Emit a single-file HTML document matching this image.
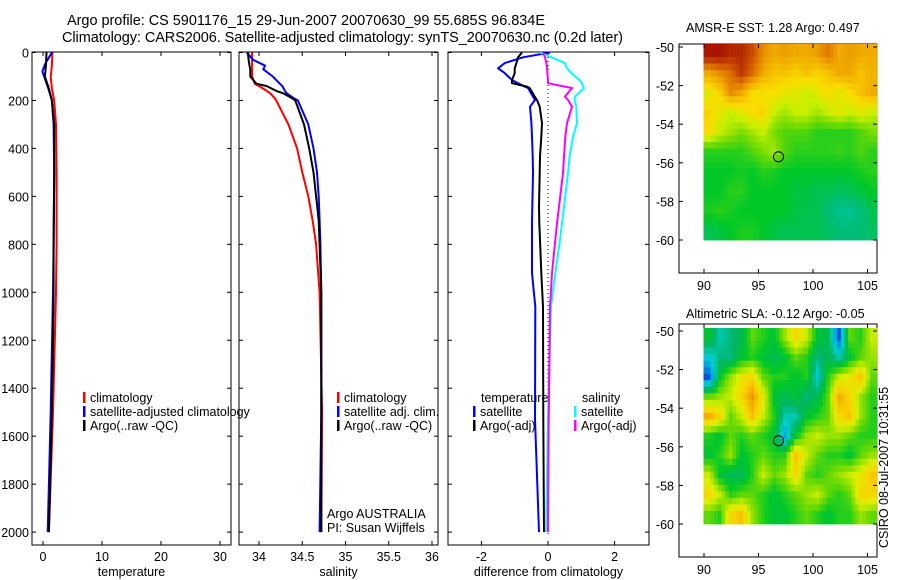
<!DOCTYPE html>
<html><head><meta charset="utf-8"><style>
body{margin:0;background:#fff;}
svg{display:block;font-family:"Liberation Sans",sans-serif;}
text{font-size:12.5px;fill:#000;}
</style></head><body>
<svg id="fig" width="900" height="580" viewBox="0 0 900 580">
<text x="67" y="25" style="font-size:14.5px" textLength="478">Argo profile: CS 5901176_15 29-Jun-2007 20070630_99 55.685S 96.834E</text>
<text x="62" y="42" style="font-size:14.5px" textLength="561">Climatology: CARS2006. Satellite-adjusted climatology: synTS_20070630.nc (0.2d later)</text>
<text x="686" y="32" style="font-size:12.5px">AMSR-E SST: 1.28 Argo: 0.497</text>
<text x="686" y="318" style="font-size:12.5px">Altimetric SLA: -0.12 Argo: -0.05</text>
<text transform="translate(888,548) rotate(-90)" style="font-size:12.5px">CSIRO 08-Jul-2007 10:31:55</text>
<g id="g"></g>
</svg>
<script>
// ---------- data ----------
const tempDepth=[0,50,80,100,150,200,300,500,800,1000,1500,2000];
const tempClim=[1.6,1.5,1.4,1.3,1.5,1.9,2.2,2.3,2.3,2.2,1.7,1.0];
const tempSat=[1.5,0.3,-0.1,0.2,0.9,1.5,1.8,1.9,1.8,1.7,1.3,0.8];
const tempArgo=[0.6,0.5,0.4,0.3,1.0,1.5,1.9,1.9,1.8,1.8,1.5,1.0];
const salDepth=[0,30,55,70,100,130,140,160,170,190,200,300,400,500,600,700,800,1000,1500,2000];
const salClim=[33.92,33.92,33.92,33.92,33.92,33.95,34.0,34.09,34.13,34.18,34.2,34.34,34.44,34.5,34.57,34.62,34.66,34.70,34.73,34.72];
const salSat=[33.86,33.93,34.07,34.05,34.16,34.24,34.27,34.3,34.32,34.4,34.45,34.57,34.63,34.67,34.69,34.7,34.71,34.72,34.72,34.70];
const salArgo=[33.87,33.88,33.89,33.9,33.9,33.97,34.09,34.2,34.28,34.38,34.42,34.52,34.58,34.63,34.66,34.69,34.7,34.72,34.72,34.72];
const diffDepth=[0,20,44,66,86,115,128,142,148,184,198,226,295,351,434,503,643,712,782,920,1060,1530,2000];
const diffTSat=[0.06,-0.75,-1.3,-1.5,-1.3,-1.08,-0.9,-0.7,-0.6,-0.45,-0.39,-0.54,-0.5,-0.48,-0.46,-0.45,-0.47,-0.48,-0.48,-0.48,-0.38,-0.39,-0.27];
const diffTArgo=[-0.78,-0.9,-0.95,-1.0,-1.0,-1.08,-1.08,-0.63,-0.55,-0.4,-0.33,-0.25,-0.18,-0.2,-0.24,-0.25,-0.27,-0.26,-0.24,-0.2,-0.15,-0.14,-0.12];
const diffSSat=[-0.24,0.1,0.51,0.57,0.7,0.95,1.02,1.05,1.08,0.81,0.8,0.85,0.87,0.75,0.65,0.6,0.48,0.42,0.36,0.22,0.09,0.0,-0.06];
const diffSArgo=[-0.15,-0.09,-0.05,-0.03,-0.02,0.0,0.0,0.5,0.72,0.51,0.6,0.72,0.57,0.52,0.48,0.45,0.33,0.27,0.22,0.12,0.06,0.02,0.0];
const depthTicks=[0,200,400,600,800,1000,1200,1400,1600,1800,2000];
const tempTicks=[0,10,20,30];
const salTicks=[34,34.5,35,35.5,36];
const diffTicks=[-2,0,2];
const lonTicks=[90,95,100,105];
const latTicks=[-50,-52,-54,-56,-58,-60];
const sstGrid=[
[0.95,0.95,0.9,0.9,0.85,0.75,0.7,0.72,0.7,0.7,0.72,0.78,0.7,0.72,0.7,0.7],
[0.7,0.75,0.8,0.88,0.8,0.7,0.65,0.65,0.62,0.65,0.62,0.65,0.7,0.7,0.65,0.68],
[0.55,0.62,0.75,0.7,0.6,0.58,0.6,0.55,0.55,0.5,0.55,0.6,0.55,0.6,0.65,0.7],
[0.62,0.55,0.5,0.55,0.6,0.62,0.5,0.45,0.5,0.5,0.45,0.5,0.55,0.5,0.55,0.5],
[0.6,0.5,0.45,0.4,0.45,0.5,0.4,0.35,0.35,0.35,0.3,0.3,0.3,0.3,0.35,0.4],
[0.3,0.3,0.3,0.3,0.35,0.4,0.45,0.35,0.3,0.3,0.3,0.3,0.32,0.3,0.35,0.3],
[0.25,0.25,0.25,0.28,0.25,0.3,0.28,0.25,0.25,0.25,0.25,0.25,0.25,0.25,0.28,0.3],
[0.25,0.25,0.3,0.3,0.25,0.25,0.25,0.25,0.22,0.22,0.2,0.2,0.18,0.2,0.22,0.25],
[0.28,0.3,0.28,0.25,0.25,0.25,0.25,0.25,0.22,0.2,0.2,0.15,0.12,0.1,0.15,0.2],
[0.2,0.22,0.25,0.28,0.28,0.25,0.22,0.2,0.2,0.2,0.2,0.18,0.15,0.15,0.15,0.18]];
const slaGrid=[
[0.4,0.25,0.3,0.35,0.5,0.45,0.4,0.55,0.7,0.6,0.4,0.35,0.05,0.5,0.45,0.6],
[0.2,0.3,0.3,0.4,0.45,0.4,0.35,0.4,0.5,0.45,0.3,0.35,0.25,0.4,0.5,0.55],
[0.05,0.4,0.55,0.65,0.7,0.5,0.45,0.45,0.4,0.45,0.2,0.45,0.6,0.65,0.75,0.5],
[0.5,0.55,0.6,0.7,0.85,0.65,0.4,0.35,0.4,0.3,0.35,0.5,0.8,0.7,0.55,0.45],
[0.8,0.7,0.5,0.6,0.75,0.6,0.45,0.25,0.25,0.4,0.45,0.5,0.7,0.75,0.55,0.45],
[0.45,0.4,0.5,0.45,0.5,0.45,0.4,0.15,0.4,0.55,0.6,0.55,0.55,0.5,0.45,0.45],
[0.4,0.45,0.55,0.4,0.45,0.5,0.45,0.45,0.75,0.6,0.5,0.45,0.45,0.4,0.5,0.55],
[0.6,0.4,0.35,0.35,0.45,0.6,0.5,0.55,0.7,0.5,0.45,0.5,0.55,0.6,0.65,0.75],
[0.7,0.6,0.45,0.5,0.5,0.45,0.4,0.45,0.5,0.55,0.6,0.5,0.45,0.5,0.7,0.7],
[0.5,0.45,0.7,0.75,0.55,0.45,0.4,0.4,0.45,0.5,0.45,0.4,0.45,0.45,0.55,0.5]];
const argoLon=96.834, argoLat=-55.685;

// ---------- helpers ----------
const NS='http://www.w3.org/2000/svg';
const G=document.getElementById('g');
function mk(tag,attrs,parent){const e=document.createElementNS(NS,tag);for(const k in attrs)e.setAttribute(k,attrs[k]);(parent||G).appendChild(e);return e;}
const yD=d=>52.5+d*0.2398;
function frame(x0,x1,y0,y1,name){
  const r=mk('rect',{x:x0,y:y0,width:x1-x0,height:y1-y0,fill:'none',stroke:'#000','stroke-width':1});
  
  
}
function profilePanel(x0,x1,sx,ticks,fmt,label,name,leftLabels){
  frame(x0,x1,52,545,name+'-frame');
  ticks.forEach(t=>{const x=sx(t);
    mk('line',{x1:x,x2:x,y1:52,y2:56,stroke:'#000'});mk('line',{x1:x,x2:x,y1:545,y2:541,stroke:'#000'});
    const tx=mk('text',{x:x,y:561,'text-anchor':'middle'});tx.textContent=fmt(t);
    
    });
  depthTicks.forEach(d=>{const y=yD(d);
    mk('line',{x1:x0,x2:x0+4,y1:y,y2:y,stroke:'#000'});mk('line',{x1:x1,x2:x1-4,y1:y,y2:y,stroke:'#000'});
    if(leftLabels){const tx=mk('text',{x:x0-3,y:y+5,'text-anchor':'end'});tx.textContent=d;
      
      }});
  const lb=mk('text',{x:(x0+x1)/2,y:576,'text-anchor':'middle'});lb.textContent=label;
  
  
}
function series(depths,vals,sx,color,name,w){
  const pts=depths.map((d,i)=>sx(vals[i]).toFixed(1)+','+yD(d).toFixed(1)).join(' ');
  const p=mk('polyline',{points:pts,fill:'none',stroke:color,'stroke-width':w||2,'stroke-linejoin':'round'});
  
  
}
function legend(x,y,color,label,name){
  mk('rect',{x:x,y:y-10,width:2.5,height:11,fill:color});
  const t=mk('text',{x:x+7,y:y});t.textContent=label;
  
  
}

// panel 1 temperature
const sxT=v=>43+v*5.9;
profilePanel(32,231,sxT,tempTicks,v=>v,'temperature','temperature-panel',true);
series(tempDepth,tempClim,sxT,'#ff0000','temp-climatology-line');
series(tempDepth,tempSat,sxT,'#0000ff','temp-satellite-line');
series(tempDepth,tempArgo,sxT,'#000000','temp-argo-line');
legend(83,402,'#ff0000','climatology','legend-climatology');
legend(83,416,'#0000ff','satellite-adjusted climatology','legend-satellite-adjusted');
legend(83,430,'#000000','Argo(..raw -QC)','legend-argo');

// panel 2 salinity
const sxS=v=>259+(v-34)*86.5;
profilePanel(239,438,sxS,salTicks,v=>v,'salinity','salinity-panel',false);
series(salDepth,salClim,sxS,'#ff0000','sal-climatology-line');
series(salDepth,salSat,sxS,'#0000ff','sal-satellite-line');
series(salDepth,salArgo,sxS,'#000000','sal-argo-line');
legend(337,402,'#ff0000','climatology','legend-sal-climatology');
legend(337,416,'#0000ff','satellite adj. clim.','legend-sal-satellite');
legend(337,430,'#000000','Argo(..raw -QC)','legend-sal-argo');
{const a=mk('text',{x:327,y:518});a.textContent='Argo AUSTRALIA';


const b=mk('text',{x:327,y:532});b.textContent='PI: Susan Wijffels';

}

// panel 3 difference
const sxD=v=>548+v*33.3;
profilePanel(448,649,sxD,diffTicks,v=>v,'difference from climatology','difference-panel',false);
mk('line',{x1:548,x2:548,y1:53,y2:534,stroke:'#000','stroke-dasharray':'1,3'});
series(diffDepth,diffTSat,sxD,'#0000ff','diff-temp-satellite-line');
series(diffDepth,diffTArgo,sxD,'#000000','diff-temp-argo-line');
series(diffDepth,diffSSat,sxD,'#00ffff','diff-sal-satellite-line');
series(diffDepth,diffSArgo,sxD,'#ff00ff','diff-sal-argo-line');
{const t=mk('text',{x:481,y:402});t.textContent='temperature';


const s=mk('text',{x:582,y:402});s.textContent='salinity';

}
legend(473,416,'#0000ff','satellite','legend-diff-temp-satellite');
legend(473,430,'#000000','Argo(-adj)','legend-diff-temp-argo');
legend(574,416,'#00ffff','satellite','legend-diff-sal-satellite');
legend(574,430,'#ff00ff','Argo(-adj)','legend-diff-sal-argo');

// maps
function lerp(a,b,t){return a.map((v,i)=>Math.round(v+(b[i]-v)*t));}
function cmap(v,stops){v=Math.max(0,Math.min(1,v));for(let i=1;i<stops.length;i++){if(v<=stops[i][0]){const t=(v-stops[i-1][0])/(stops[i][0]-stops[i-1][0]);const c=lerp(stops[i-1][1],stops[i][1],t);return 'rgb('+c.join(',')+')';}}return 'rgb('+stops[stops.length-1][1].join(',')+')';}
const sstStops=[[0,[0,210,200]],[0.15,[0,190,120]],[0.25,[0,200,40]],[0.4,[120,220,0]],[0.5,[200,240,0]],[0.6,[250,220,0]],[0.7,[240,170,0]],[0.8,[220,110,0]],[0.9,[180,40,0]],[1,[160,0,0]]];
const slaStops=[[0,[0,40,200]],[0.12,[0,150,230]],[0.22,[0,210,210]],[0.32,[0,180,100]],[0.42,[0,200,40]],[0.52,[120,220,0]],[0.62,[220,240,0]],[0.72,[250,210,0]],[0.85,[240,150,0]],[1,[220,60,0]]];
function sample(grid,fr,fc){
  const R=grid.length,C=grid[0].length;
  fr=Math.max(0,Math.min(R-1,fr));fc=Math.max(0,Math.min(C-1,fc));
  const r0=Math.floor(fr),c0=Math.floor(fc),r1=Math.min(R-1,r0+1),c1=Math.min(C-1,c0+1);
  const tr=fr-r0,tc=fc-c0;
  const a=grid[r0][c0]*(1-tc)+grid[r0][c1]*tc, b=grid[r1][c0]*(1-tc)+grid[r1][c1]*tc;
  return a*(1-tr)+b*tr;
}
function map(top,bottom,latTop,grid,stops,name){
  const x0=679,x1=877;
  const sx=lon=>704+(lon-90)*10.9;
  const sy=lat=>latTop+(-50-lat)*19.3;
  frame(x0,x1,top,bottom,name+'-frame');
  const S=3, R=grid.length, C=grid[0].length;
  const gx0=sx(90)-0.5, gy0=sy(-50)-3, cw=(x1-gx0)/C, ch=(sy(-50-R)-gy0)/R;
  for(let i=0;i<R*S;i++)for(let j=0;j<C*S;j++){
    const v=sample(grid,(i+0.5)/S-0.5,(j+0.5)/S-0.5);
    const cell=mk('rect',{x:(gx0+j*cw/S).toFixed(2),y:(gy0+i*ch/S).toFixed(2),width:(cw/S+0.4).toFixed(2),height:(ch/S+0.4).toFixed(2),fill:cmap(v,stops)});
    
    
  }
  lonTicks.forEach(l=>{const x=sx(l);mk('line',{x1:x,x2:x,y1:top,y2:top+4,stroke:'#000'});mk('line',{x1:x,x2:x,y1:bottom,y2:bottom-4,stroke:'#000'});
    const t=mk('text',{x:x,y:bottom+17,'text-anchor':'middle'});t.textContent=l;
    
    });
  latTicks.forEach(l=>{const y=sy(l);mk('line',{x1:x0,x2:x0+4,y1:y,y2:y,stroke:'#000'});mk('line',{x1:x1,x2:x1-4,y1:y,y2:y,stroke:'#000'});
    const t=mk('text',{x:x0-5,y:y+5,'text-anchor':'end'});t.textContent=l;
    
    });
  const c=mk('circle',{cx:sx(argoLon),cy:sy(argoLat),r:5,fill:'none',stroke:'#000','stroke-width':1});
  
  
}
map(44,273,47,sstGrid,sstStops,'sst-map');
map(324,557,331,slaGrid,slaStops,'sla-map');
</script>
</body></html>
